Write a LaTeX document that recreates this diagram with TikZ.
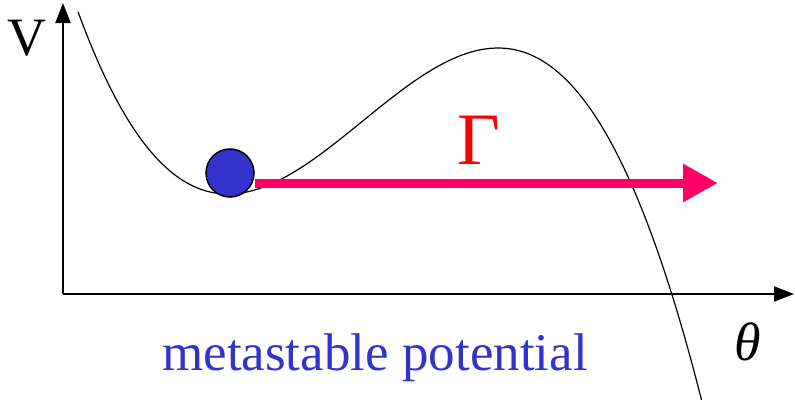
\documentclass[tikz,border=0pt]{standalone}
\usepackage{fontspec}
\setmainfont{Liberation Serif}
\usetikzlibrary{arrows.meta,positioning}
\definecolor{ballblue}{RGB}{51,51,204}
\definecolor{hotpink}{RGB}{255,0,102}

\begin{document}
\begin{tikzpicture}[x=1pt, y=-1pt, >=Stealth]
      \tikzset{
        axis/.style={line width=2pt, -{Triangle[length=20pt,width=15pt]}},
        label/.style={font=\fontsize{54}{60}\selectfont, inner sep=0pt},
        rate/.style={line width=9pt, hotpink, -{Triangle[length=35pt,width=36pt]}}
      }
      \useasboundingbox (0,0) rectangle (795,399);

      % axes
      \coordinate (o) at (63,294);
      \coordinate (vtop) at (63,3);
      \coordinate (thetaend) at (794,294);
      \draw[axis] (o) -- (vtop);
      \draw[axis] (o) -- (thetaend);
      \node[label] (V) at (27,38) {V};
      \node[label] (theta) at (748,342) {\textit{θ}};

      % potential: minimum at 228, maximum at 498
      \draw[line width=1.2pt] plot[domain=78:702, samples=120, smooth,
          variable=\t]
        (\t, {194 + 44.5*(((\t-228)/100)^3/3 - 1.35*((\t-228)/100)^2)
              - 0.05*((\t-228)/100)^3*((\t-228)/100-2.7)^2});

      % ball and escape
      \node[circle, draw, line width=1.5pt, fill=ballblue,
            minimum size=48pt, inner sep=0pt] (ball) at (230,173) {};
      \coordinate (gstart) at (ball.east |- 0,183);
      \coordinate (gend) at (718,183);
      \draw[rate] (gstart) -- (gend);
      \node[label, font=\fontsize{74}{80}\selectfont, text=red] (Gamma) at (479,140) {Γ};

      \node[label, font=\fontsize{53}{60}\selectfont, text=ballblue, anchor=base]
        (caption) at (375,370) {metastable potential};
    \end{tikzpicture}
\end{document}
